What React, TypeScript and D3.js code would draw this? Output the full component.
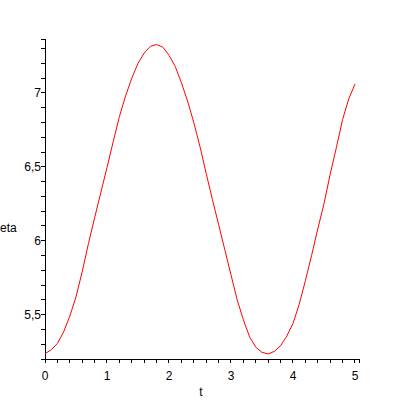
import React from "react";
import * as d3 from "d3";

const tValues = [
  0.0, 0.1, 0.2, 0.3, 0.4, 0.5, 0.6, 0.7, 0.8, 0.9,
  1.0, 1.1, 1.2, 1.3, 1.4, 1.5, 1.6, 1.7, 1.8, 1.9,
  2.0, 2.1, 2.2, 2.3, 2.4, 2.5, 2.6, 2.7, 2.8, 2.9,
  3.0, 3.1, 3.2, 3.3, 3.4, 3.5, 3.6, 3.7, 3.8, 3.9,
  4.0, 4.1, 4.2, 4.3, 4.4, 4.5, 4.6, 4.7, 4.8, 4.9, 5.0,
];
const etaValues = [
  5.236, 5.262, 5.305, 5.383, 5.49, 5.62, 5.79, 5.98, 6.155, 6.325,
  6.495, 6.67, 6.84, 6.98, 7.1, 7.2, 7.27, 7.315, 7.328, 7.31,
  7.255, 7.18, 7.07, 6.945, 6.8, 6.637, 6.455, 6.28, 6.11, 5.94,
  5.77, 5.6, 5.465, 5.35, 5.28, 5.245, 5.234, 5.252, 5.29, 5.355,
  5.44, 5.57, 5.73, 5.9, 6.08, 6.25, 6.45, 6.63, 6.82, 6.96, 7.06,
];
const xTickLabels = ["0", "1", "2", "3", "4", "5"];
const yTickValues = [5.5, 6, 6.5, 7];
const yTickLabels = ["5,5", "6", "6,5", "7"];
const xLabel = "t";
const yLabel = "eta";

export default function App() {
  const x = d3.scaleLinear().domain([0, 5.065]).range([45, 359]);
  const y = d3.scaleLinear().domain([5.2, 7.365]).range([359, 39]);
  const data = tValues.map((t, i) => [t, etaValues[i]] as [number, number]);
  const line = d3
    .line<[number, number]>()
    .x((d) => x(d[0]))
    .y((d) => y(d[1]));

  const xMinor = d3.range(0, 26).map((i) => i * 0.2);
  const yMinor = d3.range(0, 22).map((i) => 5.2 + i * 0.1);
  const font = "'Liberation Sans', Arial, Helvetica, sans-serif";
  const x0 = x(0);
  const yb = y(5.2);

  return (
    <svg
      width={400}
      height={400}
      style={{ position: "absolute", left: 0, top: 0, background: "#fff" }}
    >
      <g stroke="#000" strokeWidth={1} shapeRendering="crispEdges">
        <line x1={x0} x2={x(5.065)} y1={yb} y2={yb} />
        <line x1={x0} x2={x0} y1={y(7.365)} y2={yb + 3} />
        {xMinor.map((t, i) => (
          <line key={"xt" + i} x1={x(t)} x2={x(t)} y1={yb} y2={yb + 4} />
        ))}
        <line x1={x(5.065)} x2={x(5.065)} y1={yb} y2={yb + 4} />
        {yMinor.map((v, i) => (
          <line key={"yt" + i} x1={x0 - 4} x2={x0} y1={y(v)} y2={y(v)} />
        ))}
        <line x1={x0 - 4} x2={x0} y1={y(7.365)} y2={y(7.365)} />
      </g>
      <path d={line(data) || ""} fill="none" stroke="#ff0000" strokeWidth={1} />
      <g fontFamily={font} fontSize={12} fill="#000">
        {xTickLabels.map((s, i) => (
          <text key={"xl" + i} x={x(i)} y={380} textAnchor="middle">
            {s}
          </text>
        ))}
        {yTickValues.map((v, i) => (
          <text key={"yl" + i} x={41} y={y(v) + 4} textAnchor="end">
            {yTickLabels[i]}
          </text>
        ))}
        <text x={201} y={396} textAnchor="middle">
          {xLabel}
        </text>
        <text x={0} y={232} textAnchor="start">
          {yLabel}
        </text>
      </g>
    </svg>
  );
}
